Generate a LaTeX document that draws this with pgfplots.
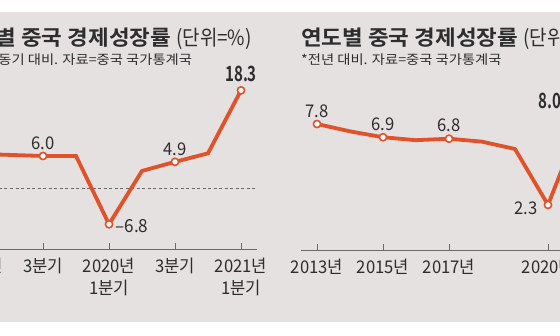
\documentclass[border=0pt]{standalone}
\usepackage{pgfplots}
\pgfplotsset{compat=1.18}
\usepackage{fontspec}
\setmainfont{Noto Sans CJK KR}
\newfontfamily\tickfont[FakeStretch=0.95]{Noto Sans CJK KR}
\newfontfamily\titlefont[FakeStretch=1.07]{Noto Sans CJK KR Bold}
\newfontfamily\unitfont[FakeStretch=0.9]{Noto Sans CJK KR}
\newfontfamily\subfont[FakeStretch=1.1]{Noto Sans CJK KR}
\newfontfamily\bignum[FakeStretch=0.72]{Noto Sans CJK KR Bold}
\newcommand{\tl}[1]{\mbox{\tickfont #1}}
\definecolor{bg}{RGB}{229,225,224}
\definecolor{lineor}{RGB}{226,82,42}
\definecolor{txt}{RGB}{45,45,45}
\definecolor{axgray}{RGB}{105,105,105}
\begin{document}
\begin{tikzpicture}
\begin{scope}
\clip (0pt,0pt) rectangle (560pt,336pt);
\fill[white] (0pt,0pt) rectangle (560pt,336pt);
\fill[bg] (0pt,14pt) rectangle (560pt,324pt);
% titles
\node[anchor=west,inner sep=0,text=txt] at (-46pt,297pt) {\titlefont\fontsize{21}{24}\selectfont 분기별 중국 경제성장률 \unitfont(단위=\%)};
\node[anchor=west,inner sep=0,text=txt] at (301pt,297pt) {\titlefont\fontsize{21}{24}\selectfont 연도별 중국 경제성장률 \unitfont(단위=\%)};
\node[anchor=west,inner sep=0,text=txt] at (-38pt,276pt) {\subfont\fontsize{13}{15}\selectfont *전년 동기 대비. 자료=중국 국가통계국};
\node[anchor=west,inner sep=0,text=txt] at (301pt,276pt) {\subfont\fontsize{13}{15}\selectfont *전년 대비. 자료=중국 국가통계국};

\begin{axis}[
  at={(-39.5pt,87pt)}, anchor=south west,
  x=33pt, y=5.3333pt,
  xmin=-0.5, xmax=8.485, ymin=-11.44, ymax=20,
  axis x line=bottom, axis y line=none,
  x axis line style={-, draw=axgray, line width=0.8pt},
  xtick={0,2,4,6,8},
  xticklabels={{\tl{2019년}\\\tl{1분기}},{\tl{3분기}},{\tl{2020년}\\\tl{1분기}},{\tl{3분기}},{\tl{2021년}\\\tl{1분기}}},
  xticklabel style={align=center, anchor=north, text=txt, font=\tickfont\fontsize{17.5}{22}\selectfont, yshift=-6pt},
  major tick length=6pt, tick align=inside,
  xtick style={draw=axgray, line width=0.8pt},
  clip=false,
]
\draw[axgray, line width=0.7pt, dash pattern=on 3pt off 2.5pt] (axis cs:-0.5,0) -- (axis cs:8.485,0);
\addplot[lineor, line width=3.8pt, line join=miter, mark=none] coordinates {
(0,6.4) (1,6.2) (2,6.0) (3,6.0) (4,-6.8) (5,3.2) (6,4.9) (7,6.5) (8,18.3)};
\addplot[only marks, mark=*, mark size=3.6pt, mark options={fill=white, draw=lineor, line width=1.6pt}] coordinates {
(0,6.4) (2,6.0) (4,-6.8) (6,4.9) (8,18.3)};
\node[above, text=txt, font=\tickfont\fontsize{17.5}{20}\selectfont, yshift=3pt] at (axis cs:2,6.0) {6.0};
\node[above, text=txt, font=\tickfont\fontsize{17.5}{20}\selectfont, yshift=3pt] at (axis cs:6,4.9) {4.9};
\node[right, text=txt, font=\tickfont\fontsize{18}{20}\selectfont, xshift=3pt, yshift=-2pt] at (axis cs:4,-6.8) {–6.8};
\node[above, text=txt, font=\bignum\fontsize{21}{24}\selectfont, yshift=5pt] at (axis cs:8,18.3) {18.3};
\end{axis}

% right panel: x = year - 2013
\begin{axis}[
  at={(301pt,86pt)}, anchor=south west,
  x=33pt, y=14.7pt,
  xmin=-0.485, xmax=8.5, ymin=-0.77, ymax=9,
  axis x line=bottom, axis y line=none,
  x axis line style={-, draw=axgray, line width=0.8pt},
  xtick={0,2,4,7},
  xticklabels={\tl{2013년},\tl{2015년},\tl{2017년},\tl{2020년}},
  xticklabel style={align=center, anchor=north, text=txt, font=\tickfont\fontsize{17.5}{22}\selectfont, yshift=-6pt},
  major tick length=6pt, tick align=inside,
  xtick style={draw=axgray, line width=0.8pt},
  clip=false,
]
\addplot[lineor, line width=3.8pt, line join=miter, mark=none] coordinates {
(0,7.8) (1,7.3) (2,6.9) (3,6.7) (4,6.8) (5,6.6) (6,6.1) (7,2.3) (8,8.0)};
\addplot[only marks, mark=*, mark size=3.6pt, mark options={fill=white, draw=lineor, line width=1.6pt}] coordinates {
(0,7.8) (2,6.9) (4,6.8) (7,2.3) (8,8.0)};
\node[above, text=txt, font=\tickfont\fontsize{17.5}{20}\selectfont, yshift=3pt] at (axis cs:0,7.8) {7.8};
\node[above, text=txt, font=\tickfont\fontsize{17.5}{20}\selectfont, yshift=3pt] at (axis cs:2,6.9) {6.9};
\node[above, text=txt, font=\tickfont\fontsize{17.5}{20}\selectfont, yshift=3pt] at (axis cs:4,6.8) {6.8};
\node[left, text=txt, font=\tickfont\fontsize{17.5}{20}\selectfont, xshift=-7pt, yshift=-3pt] at (axis cs:7,2.3) {2.3};
\node[anchor=south west, text=txt, font=\bignum\fontsize{21}{24}\selectfont, inner sep=0pt] at (axis cs:6.7,8.8) {8.0};
\end{axis}
\end{scope}
\pgfresetboundingbox
\useasboundingbox (0pt,0pt) rectangle (560pt,336pt);
\end{tikzpicture}
\end{document}
